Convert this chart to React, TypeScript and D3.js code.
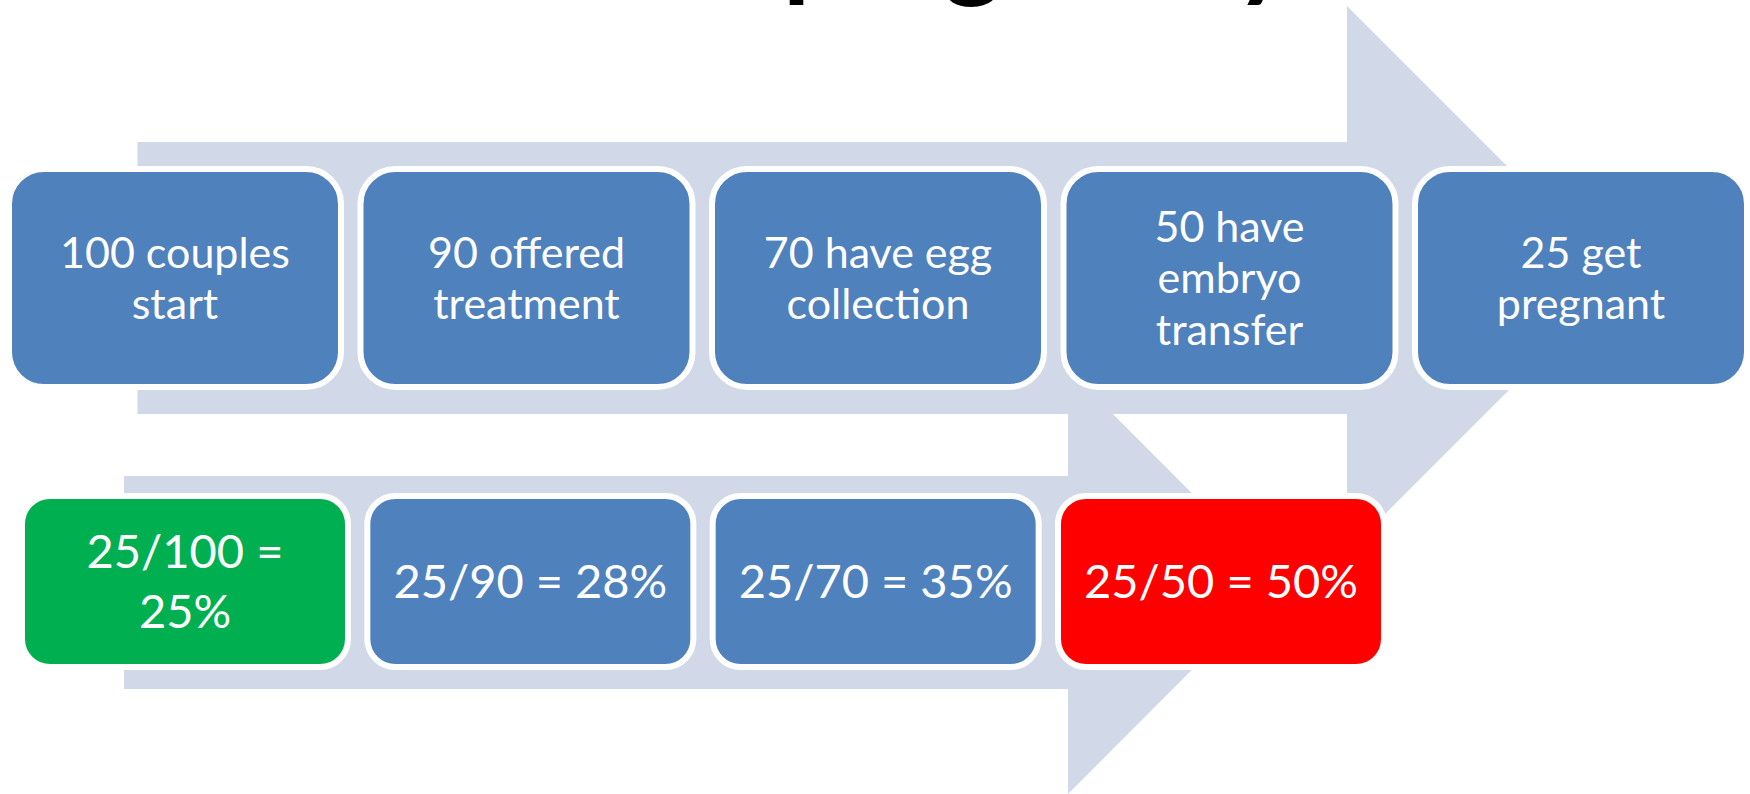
import React, { useEffect, useRef } from "react";
import * as d3 from "d3";

// funnel steps (top row) and the rate each denominator gives (bottom row)
const stepLabels = [
  "100 couples\nstart",
  "90 offered\ntreatment",
  "70 have egg\ncollection",
  "50 have\nembryo\ntransfer",
  "25 get\npregnant",
];
const rateLabels = ["25/100 =\n25%", "25/90 = 28%", "25/70 = 35%", "25/50 = 50%"];
const rateColors = ["#00B050", "#4F81BD", "#4F81BD", "#FF0000"];
const titlePrefix = "Measures of";
const titleWord = "pregnancy rate";

const W = 1750;
const H = 794;
const ARROW = "#D1D8E7";
const FONT = "Lato, 'Open Sans', sans-serif";

export default function App() {
  const ref = useRef<SVGSVGElement>(null);

  useEffect(() => {
    const svg = d3.select(ref.current);
    svg.selectAll("*").remove();

    // title, pushed above the top edge so only descenders show
    svg
      .append("text")
      .attr("x", 765)
      .attr("y", -13)
      .attr("text-anchor", "end")
      .attr("font-family", FONT)
      .attr("font-weight", 700)
      .attr("font-size", 110)
      .text(titlePrefix);
    svg
      .append("text")
      .attr("x", 783)
      .attr("y", -13)
      .attr("font-family", FONT)
      .attr("font-weight", 700)
      .attr("font-size", 110)
      .text(titleWord);

    // big background arrows
    const arrows = [
      { x0: 124, sTop: 476, sBot: 689, hx: 1068, hTop: 369, hBot: 794, tip: 1280 },
      { x0: 137.5, sTop: 142, sBot: 414, hx: 1347, hTop: 6, hBot: 552, tip: 1620 },
    ];
    const line = d3.line<[number, number]>();
    svg
      .selectAll("path.arrow")
      .data(arrows)
      .enter()
      .append("path")
      .attr("class", "arrow")
      .attr("fill", ARROW)
      .attr("d", (a) =>
        line([
          [a.x0, a.sTop],
          [a.hx, a.sTop],
          [a.hx, a.hTop],
          [a.tip, (a.hTop + a.hBot) / 2],
          [a.hx, a.hBot],
          [a.hx, a.sBot],
          [a.x0, a.sBot],
        ]) + "Z"
      );

    const drawRow = (
      labels: string[],
      colors: string[],
      x: d3.ScaleBand<number>,
      y: number,
      h: number,
      r: number,
      fontSize: number,
      lineH: number
    ) => {
      const g = svg
        .selectAll("g.row" + y)
        .data(labels)
        .enter()
        .append("g")
        .attr("transform", (d, i) => `translate(${x(i)},${y})`);

      g.append("rect")
        .attr("width", x.bandwidth())
        .attr("height", h)
        .attr("rx", r)
        .attr("ry", r)
        .attr("fill", (d, i) => colors[i])
        .attr("stroke", "#fff")
        .attr("stroke-width", 6);

      const cap = fontSize * 0.72;
      g.each(function (d) {
        const lines = d.split("\n");
        const first = h / 2 - ((lines.length - 1) * lineH) / 2 + cap / 2;
        d3.select(this)
          .selectAll("text")
          .data(lines)
          .enter()
          .append("text")
          .attr("x", x.bandwidth() / 2)
          .attr("y", (l, j) => first + j * lineH)
          .attr("text-anchor", "middle")
          .attr("font-family", FONT)
          .attr("font-size", fontSize)
          .attr("fill", "#fff")
          .text((l) => l);
      });
    };

    const xTop = d3
      .scaleBand<number>()
      .domain(d3.range(stepLabels.length))
      .range([9, 1747])
      .paddingInner(0.0555);
    drawRow(stepLabels, stepLabels.map(() => "#4F81BD"), xTop, 169, 218, 35, 43, 51.5);

    const xBot = d3
      .scaleBand<number>()
      .domain(d3.range(rateLabels.length))
      .range([22, 1384])
      .paddingInner(0.056);
    drawRow(rateLabels, rateColors, xBot, 496, 171, 28, 47, 60);
  }, []);

  return (
    <svg
      ref={ref}
      width={W}
      height={H}
      style={{ position: "absolute", left: 0, top: 0, display: "block", background: "#fff" }}
    />
  );
}
